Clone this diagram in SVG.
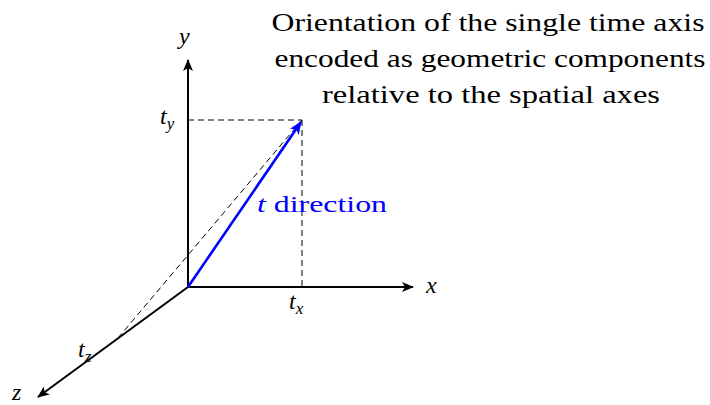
<svg xmlns="http://www.w3.org/2000/svg" width="710" height="405" viewBox="0 0 710 405" font-family="'Liberation Serif', 'DejaVu Serif', serif">
<style>
text{font-family:'Liberation Serif','DejaVu Serif',serif;font-size:24px;fill:#000}
.it{font-style:italic}
.sub{font-size:17px;font-style:italic}
.title{font-size:25px}
.axis{stroke:#000;stroke-width:2;fill:none}
.dash{stroke:#000;stroke-width:1;stroke-dasharray:6,4;fill:none}
</style>
<defs>
<marker id="ab" viewBox="0 0 12 10" refX="11" refY="5" markerWidth="12" markerHeight="10" markerUnits="userSpaceOnUse" orient="auto">
<path d="M0,0 L12,5 L0,10 L3,5 Z" fill="#000"/>
</marker>
<marker id="ablue" viewBox="0 0 12 10" refX="11" refY="5" markerWidth="13" markerHeight="11" markerUnits="userSpaceOnUse" orient="auto">
<path d="M0,0 L12,5 L0,10 L3,5 Z" fill="#00f"/>
</marker>
</defs>
<g id="connectors">
<line class="dash" x1="188" y1="120" x2="302" y2="120"/>
<line class="dash" x1="302" y1="120" x2="302" y2="287"/>
<line class="dash" x1="118" y1="338" x2="302" y2="120"/>
<line class="axis" x1="188" y1="287" x2="188" y2="60" marker-end="url(#ab)"/>
<line class="axis" x1="188" y1="287" x2="413" y2="287" marker-end="url(#ab)"/>
<line class="axis" x1="188" y1="287" x2="38" y2="397" marker-end="url(#ab)"/>
<line x1="188" y1="287" x2="301" y2="122" stroke="#00f" stroke-width="2.6" marker-end="url(#ablue)"/>
</g>
<g id="label-y"><text class="it" x="179" y="44">y</text></g>
<g id="label-x"><text class="it" x="426" y="293">x</text></g>
<g id="label-z"><text class="it" x="12" y="400">z</text></g>
<g id="label-ty"><text class="it" x="160" y="124">t<tspan class="sub" dy="5">y</tspan></text></g>
<g id="label-tx"><text class="it" x="289" y="309">t<tspan class="sub" dy="5">x</tspan></text></g>
<g id="label-tz"><text class="it" x="78" y="357">t<tspan class="sub" dy="5">z</tspan></text></g>
<g id="label-t"><text x="257" y="212" style="fill:#00f" textLength="130" lengthAdjust="spacingAndGlyphs"><tspan class="it">t</tspan> direction</text></g>
<g id="title">
<text class="title" x="488" y="31" text-anchor="middle" textLength="433" lengthAdjust="spacingAndGlyphs">Orientation of the single time axis</text>
<text class="title" x="490" y="67" text-anchor="middle" textLength="431" lengthAdjust="spacingAndGlyphs">encoded as geometric components</text>
<text class="title" x="491" y="103" text-anchor="middle" textLength="338" lengthAdjust="spacingAndGlyphs">relative to the spatial axes</text>
</g>
</svg>
